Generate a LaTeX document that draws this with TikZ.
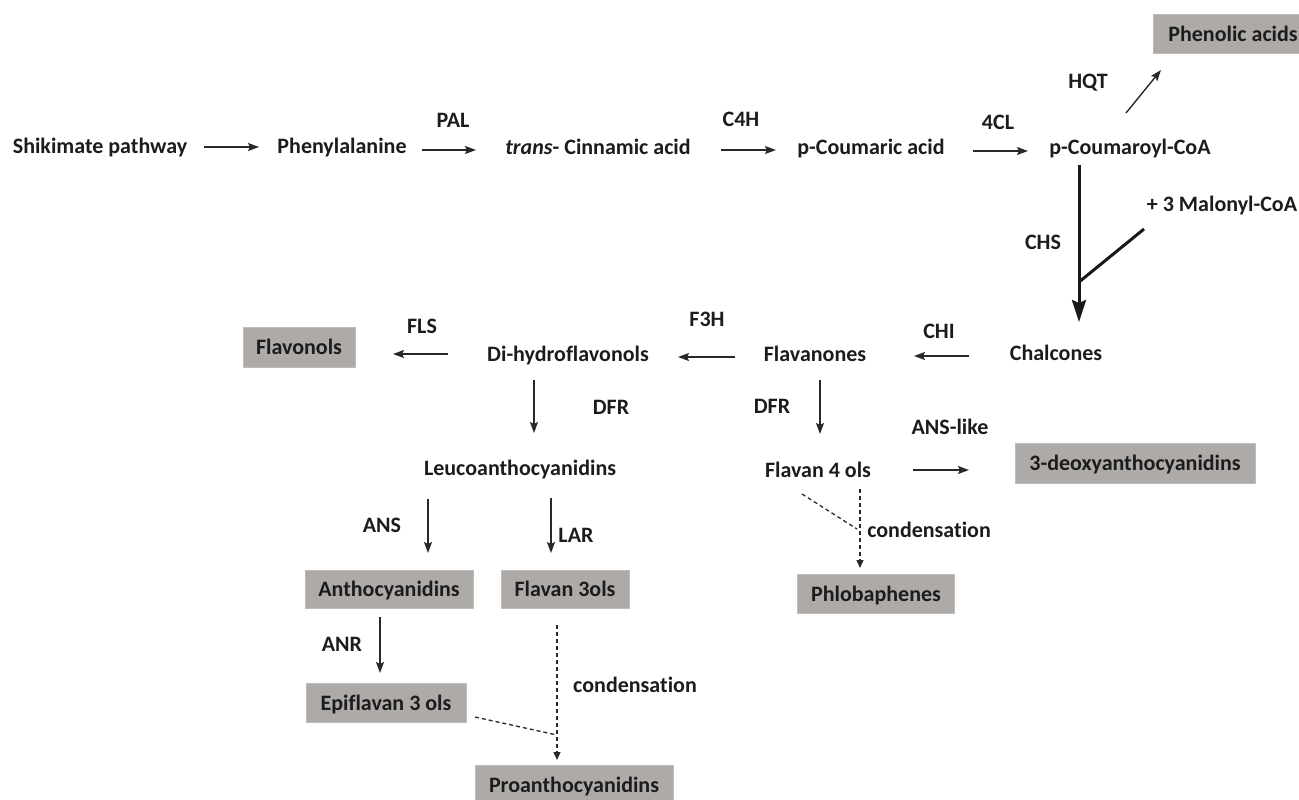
\documentclass[tikz,border=0pt]{standalone}
\usepackage{fontspec}
\setmainfont{Carlito}[Ligatures={NoCommon}]
\usetikzlibrary{arrows.meta}
\definecolor{boxfill}{RGB}{173,170,168}
\definecolor{boxedge}{RGB}{190,188,186}
\definecolor{txt}{RGB}{28,28,28}
\definecolor{ln}{RGB}{40,40,40}
\tikzset{
 lbl/.style={inner sep=0pt, text height=15pt, text depth=0pt, font=\fontsize{22}{26}\selectfont\bfseries, text=txt},
 gbox/.style={lbl, fill=boxfill, draw=boxedge, line width=0.8pt},
 arr/.style={draw=ln, line width=1.4pt, -{Stealth[length=11pt,width=8pt,inset=2pt]}},
 bigarr/.style={draw=black!90, line width=3pt, -{Stealth[length=22pt,width=14pt,inset=3pt]}},
 bigline/.style={draw=black!90, line width=3pt},
 dsh/.style={draw=ln, line width=1.3pt, dash pattern=on 4pt off 3pt},
 dsharr/.style={dsh, -{Triangle[length=8pt,width=7pt]}}
}
\begin{document}
\begin{tikzpicture}[x=1pt,y=-1pt]
\useasboundingbox (0,0) rectangle (1299,800);
% row 1
\node[lbl] (shik) at (100,146) {Shikimate pathway};
\node[lbl] (phe) at (342,146) {Phenylalanine};
\node[lbl] (cin) at (598,147) {\textit{trans}- Cinnamic acid};
\node[lbl] (cou) at (871,147) {p-Coumaric acid};
\node[lbl] (coa) at (1130,147) {p-Coumaroyl-CoA};
\node[lbl] (pal) at (453,120) {PAL};
\node[lbl] (c4h) at (741,119) {C4H};
\node[lbl] (fourcl) at (998,122) {4CL};
\node[lbl] (hqt) at (1088,81) {HQT};
\node[gbox, anchor=west, minimum height=39pt, inner xsep=15pt] (phen) at (1153,34) {Phenolic acids};
\node[lbl] (mal) at (1222,204) {+ 3 Malonyl-CoA};
\node[lbl] (chs) at (1043,242) {CHS};
% row 2
\node[lbl] (chal) at (1056,353) {Chalcones};
\node[lbl] (chi) at (939,331) {CHI};
\node[lbl] (flav) at (815,354) {Flavanones};
\node[lbl] (f3h) at (707,319) {F3H};
\node[lbl] (dhf) at (568,354) {Di-hydroflavonols};
\node[lbl] (fls) at (422,326) {FLS};
\node[gbox, minimum width=112pt, minimum height=40pt] (flavonols) at (299,347) {Flavonols};
\node[lbl] (dfra) at (611,407) {DFR};
\node[lbl] (dfrb) at (772,406) {DFR};
% row 3
\node[lbl] (leuco) at (520,468) {Leucoanthocyanidins};
\node[lbl] (f4ol) at (818,470) {Flavan 4 ols};
\node[lbl] (anslike) at (950,427) {ANS-like};
\node[gbox, minimum width=240pt, minimum height=40pt] (deoxy) at (1135,463) {3-deoxyanthocyanidins};
\node[lbl] (conda) at (929,530) {condensation};
\node[gbox, minimum width=157pt, minimum height=39pt] (phlob) at (876,594) {Phlobaphenes};
\node[lbl] (ans) at (382,525) {ANS};
\node[lbl] (lar) at (576,535) {LAR};
\node[gbox, minimum width=168pt, minimum height=38pt] (antho) at (389,589) {Anthocyanidins};
\node[gbox, minimum width=128pt, minimum height=38pt] (fthreeol) at (565,589) {Flavan 3ols};
\node[lbl] (anr) at (342,644) {ANR};
\node[gbox, minimum width=160pt, minimum height=39pt] (epi) at (386,703) {Epiflavan 3 ols};
\node[lbl] (condb) at (635,685) {condensation};
\node[gbox, minimum width=198pt, minimum height=40pt] (pro) at (574,785) {Proanthocyanidins};
% junction coordinates
\coordinate (j) at (1079,282);
\coordinate (k) at (857,529);
\coordinate (m) at (557,735);
% connectors
\draw[arr] ([shift={(104,1)}]shik.center) -- ([shift={(-83,1)}]phe.center);
\draw[arr] ([shift={(80,4)}]phe.center) -- ([shift={(-122,3)}]cin.center);
\draw[arr] ([shift={(123,3)}]cin.center) -- ([shift={(-95,3)}]cou.center);
\draw[arr] ([shift={(102,4)}]cou.center) -- ([shift={(-102,4)}]coa.center);
\draw[arr] ([shift={(-4,-34)}]coa.center) -- ([shift={(8,36)}]phen.west);
\draw[bigarr] ([shift={(-51,18)}]coa.center) -- ([shift={(23,-31)}]chal.center);
\draw[bigline] ([shift={(-78,25)}]mal.center) -- (j);
\draw[arr] ([shift={(-87,3)}]chal.center) -- ([shift={(99,2)}]flav.center);
\draw[arr] ([shift={(-80,3)}]flav.center) -- ([shift={(110,3)}]dhf.center);
\draw[arr] ([shift={(-120,0)}]dhf.center) -- ([shift={(94,7)}]flavonols.center);
\draw[arr] ([shift={(-34,26)}]dhf.center) -- ([shift={(14,-35)}]leuco.center);
\draw[arr] ([shift={(5,26)}]flav.center) -- ([shift={(2,-36)}]f4ol.center);
\draw[arr] ([shift={(95,0)}]f4ol.center) -- ([shift={(-166,7)}]deoxy.center);
\draw[dsharr] ([shift={(42,19)}]f4ol.center) -- ([shift={(-16,-26)}]phlob.center);
\draw[dsh] ([shift={(-16,24)}]f4ol.center) -- (k);
\draw[arr] ([shift={(-92,31)}]leuco.center) -- ([shift={(39,-36)}]antho.center);
\draw[arr] ([shift={(31,30)}]leuco.center) -- ([shift={(-14,-36)}]fthreeol.center);
\draw[arr] ([shift={(-9,28)}]antho.center) -- ([shift={(-6,-30)}]epi.center);
\draw[dsharr] ([shift={(-8,36)}]fthreeol.center) -- ([shift={(-17,-25)}]pro.center);
\draw[dsh] ([shift={(89,14)}]epi.center) -- (m);
\end{tikzpicture}
\end{document}
